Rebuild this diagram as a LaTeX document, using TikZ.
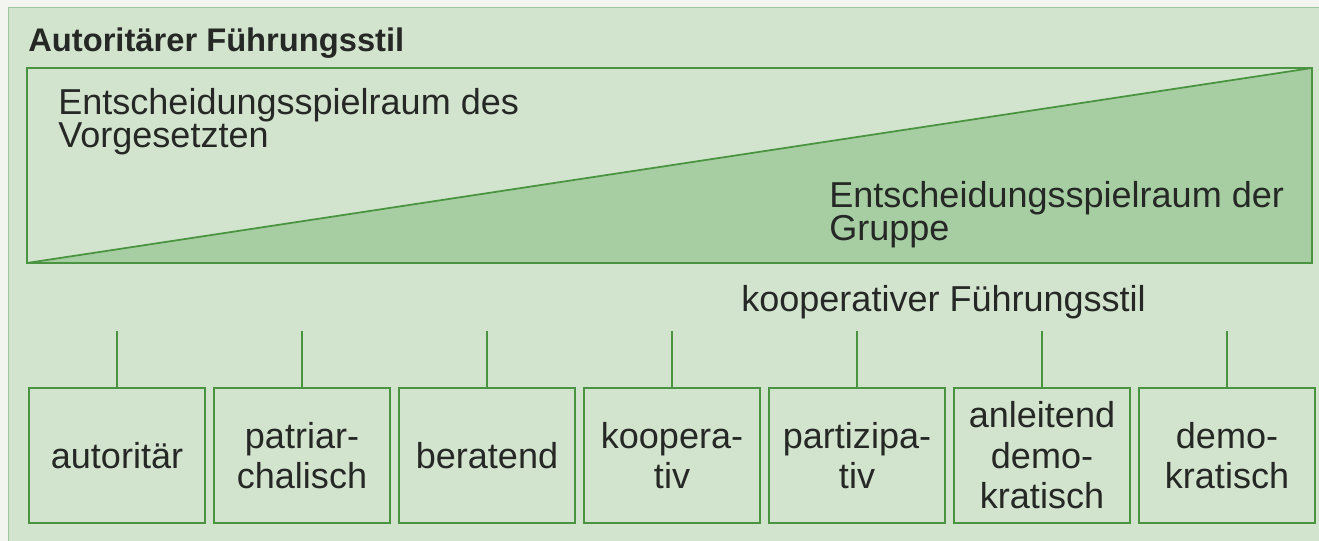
\documentclass[tikz,border=0pt]{standalone}
\usepackage{fontspec}
\setmainfont{Liberation Sans}
\usepackage{xcolor}
\definecolor{paper}{HTML}{F3F5F1}
\definecolor{panelgreen}{HTML}{D3E4CE}
\definecolor{wedgegreen}{HTML}{A6CEA2}
\definecolor{linegreen}{HTML}{4A9441}
\definecolor{inkgray}{HTML}{252825}

\begin{document}
\begin{tikzpicture}[
    x=0.2mm, y=-0.2mm,
    stylebox/.style={rectangle, draw=linegreen, line width=1pt, minimum width=35.2mm, minimum height=27mm, align=center, text=inkgray, font=\fontsize{20.5}{23}\selectfont, inner sep=0pt},
    label/.style={anchor=base west, align=left, inner sep=0pt, text=inkgray, font=\fontsize{20.5}{19}\selectfont},
    link/.style={draw=linegreen, line width=1pt}
]
    \useasboundingbox (0,0) rectangle (1319,541);

    % paper and green panel
    \fill[paper] (0,0) rectangle (1319,541);
    \fill[panelgreen, draw=green!25!gray!60, line width=0.4pt] (8,7) rectangle (1325,548);

    % title
    \node[label, font=\fontsize{18.6}{20}\selectfont\bfseries] (title) at (28,52) {Autoritärer Führungsstil};

    % decision space: rectangle split by a diagonal
    \fill[wedgegreen] (27,263) -- (1312,68) -- (1312,263) -- cycle;
    \draw[link] (27,68) rectangle (1312,263);
    \draw[link] (27,263) -- (1312,68);

    % base anchor sits on the last line
    \node[label] (boss) at (58,148) {Entscheidungsspielraum des\\Vorgesetzten};
    \node[label] (group) at (829,241) {Entscheidungsspielraum der\\Gruppe};

    \node[label] (coop) at (741,312) {kooperativer Führungsstil};

    % the seven styles
    \node[stylebox] (s1) at (117,455.5) {autoritär};
    \node[stylebox] (s2) at (302,455.5) {patriar-\\chalisch};
    \node[stylebox] (s3) at (487,455.5) {beratend};
    \node[stylebox] (s4) at (672,455.5) {koopera-\\tiv};
    \node[stylebox] (s5) at (857,455.5) {partizipa-\\tiv};
    \node[stylebox] (s6) at (1042,455.5) {anleitend\\demo-\\kratisch};
    \node[stylebox] (s7) at (1227,455.5) {demo-\\kratisch};

    \coordinate (t1) at (117,331);
    \coordinate (t2) at (302,331);
    \coordinate (t3) at (487,331);
    \coordinate (t4) at (672,331);
    \coordinate (t5) at (857,331);
    \coordinate (t6) at (1042,331);
    \coordinate (t7) at (1227,331);

    \draw[link] (t1) -- (s1);
    \draw[link] (t2) -- (s2);
    \draw[link] (t3) -- (s3);
    \draw[link] (t4) -- (s4);
    \draw[link] (t5) -- (s5);
    \draw[link] (t6) -- (s6);
    \draw[link] (t7) -- (s7);
\end{tikzpicture}
\end{document}
